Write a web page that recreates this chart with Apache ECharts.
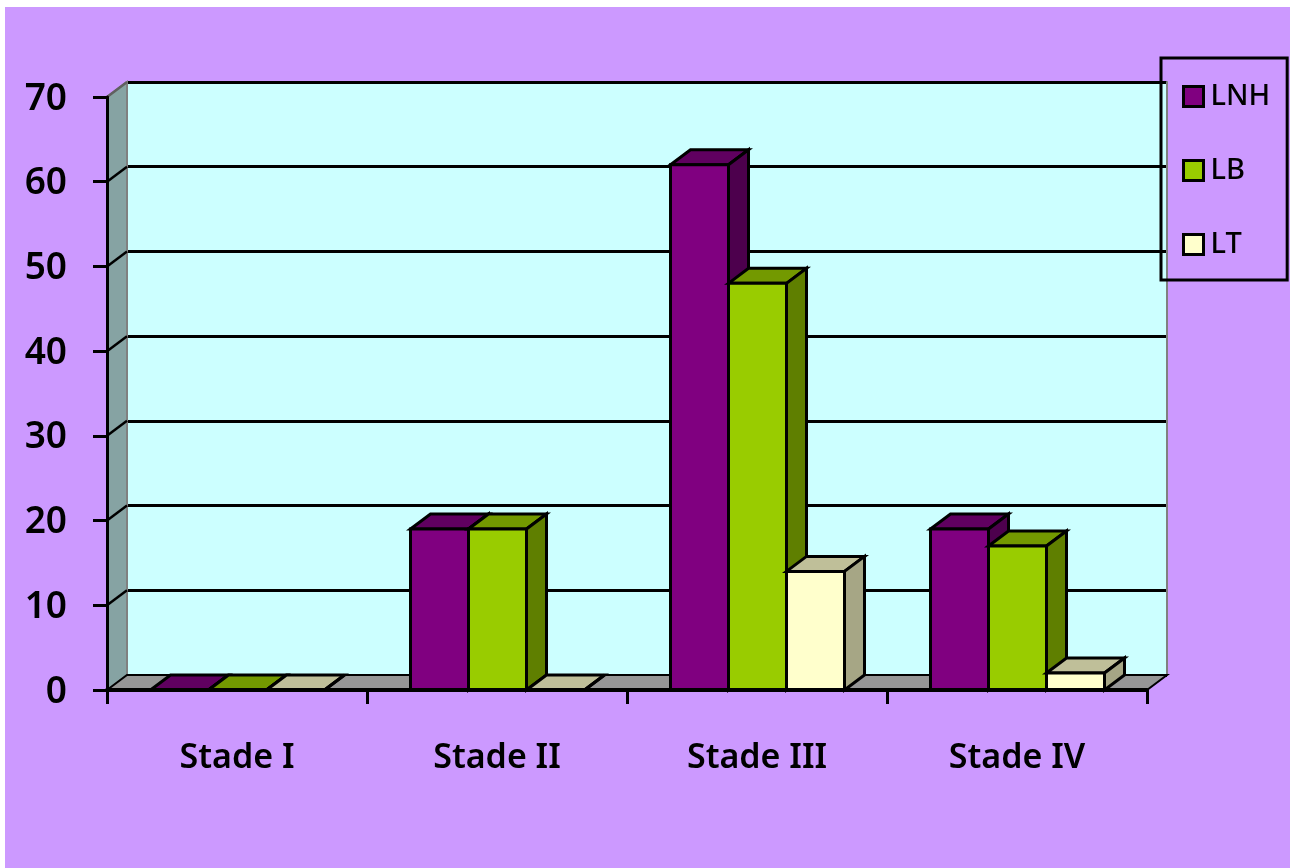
<!DOCTYPE html>
<html><head><meta charset="utf-8">
<style>html,body{margin:0;padding:0;background:#fff}#c{width:1290px;height:868px}</style>
<script src="https://cdn.jsdelivr.net/npm/echarts@6/dist/echarts.min.js"></script>
</head><body><div id="c"></div>
<script>
const categories = ['Stade I','Stade II','Stade III','Stade IV'];
const lnh = [0,19,62,19];
const lb  = [0,19,48,17];
const lt  = [0,0,14,2];
const yTicks = [0,10,20,30,40,50,60,70];
const DX = 20, DY = -15, FONT = '"Noto Sans"';

const chart = echarts.init(document.getElementById('c'));

function barSeries(name, values, idx, front, top, side){
  return {
    name, type:'custom', coordinateSystem:'cartesian2d', xAxisIndex:0, yAxisIndex:0,
    itemStyle:{color:front}, z:4+idx, clip:false,
    data: values.map((v,i)=>[i,v]),
    encode:{x:0,y:1},
    renderItem(params, api){
      const band = api.size([1,0])[0];
      const w = band*58/260;
      const p = api.coord([api.value(0), api.value(1)]);
      const p0 = api.coord([api.value(0), 0]);
      const x = p[0] - 1.5*w + idx*w + 0.5, y = p[1], y0 = p0[1];
      const st = c => ({fill:c, stroke:'#000', lineWidth:3});
      const ch = [];
      ch.push({type:'polygon',shape:{points:[[x,y],[x+DX,y+DY],[x+w+DX,y+DY],[x+w,y]]},style:st(top)});
      ch.push({type:'polygon',shape:{points:[[x+w,y],[x+w+DX,y+DY],[x+w+DX,y0+DY],[x+w,y0]]},style:st(side)});
      if (y0 - y > 0.5) ch.push({type:'rect',shape:{x,y,width:w,height:y0-y},style:st(front)});
      return {type:'group',children:ch};
    }
  };
}

const roomSeries = {
  type:'custom', coordinateSystem:'cartesian2d', xAxisIndex:0, yAxisIndex:0, z:2, silent:true, clip:false,
  data:[[0,0]], legendHoverLink:false,
  renderItem(params, api){
    const band = api.size([1,0])[0];
    const c0 = api.coord([0,0]), cTop = api.coord([0,yTicks[yTicks.length-1]]);
    const xl = c0[0]-band/2, xr = xl + band*categories.length, yb = c0[1], yt = cTop[1];
    const ch = [
      {type:'polygon',shape:{points:[[xl,yb],[xl+DX,yb+DY],[xl+DX,yt+DY],[xl,yt]]},style:{fill:'#86A3A3',stroke:'#808080',lineWidth:2}},
      {type:'polygon',shape:{points:[[xl,yb],[xl+DX,yb+DY],[xr+DX,yb+DY],[xr,yb]]},style:{fill:'#969696',stroke:'#000',lineWidth:2}}
    ];
    yTicks.slice(1).forEach(t=>{
      const y = api.coord([0,t])[1];
      ch.push({type:'line',shape:{x1:xl,y1:y,x2:xl+DX,y2:y+DY},style:{stroke:t===yTicks[yTicks.length-1]?'#606060':'#000',lineWidth:2.5}});
    });
    return {type:'group',children:ch};
  }
};

chart.setOption({
  animation:false,
  backgroundColor:'#fff',
  textStyle:{fontFamily:FONT},
  graphic:[{type:'rect',z:-100,silent:true,shape:{x:5,y:7,width:1285,height:861},style:{fill:'#CC99FF'}}],
  grid:[
    {left:107,top:97,width:1040,height:593,show:false},
    {left:127,top:82,width:1040,height:593,show:true,backgroundColor:'#CCFFFF',borderWidth:0}
  ],
  xAxis:[
    {type:'category',gridIndex:0,data:categories,z:10,
     axisLine:{show:true,lineStyle:{color:'#000',width:4}},
     axisTick:{show:true,alignWithLabel:false,length:14,lineStyle:{color:'#000',width:3}},
     axisLabel:{color:'#000',fontSize:34,fontWeight:600,margin:51,fontFamily:FONT}},
    {type:'category',gridIndex:1,data:categories,axisLine:{show:false},axisTick:{show:false},axisLabel:{show:false}}
  ],
  yAxis:[
    {type:'value',gridIndex:0,min:0,max:70,interval:10,z:10,
     axisLine:{show:true,lineStyle:{color:'#000',width:3}},
     axisTick:{show:true,length:14,lineStyle:{color:'#000',width:3}},
     axisLabel:{color:'#000',fontSize:37,fontWeight:600,margin:40,verticalAlign:'top',lineHeight:4,fontFamily:FONT},
     splitLine:{show:false}},
    {type:'value',gridIndex:1,min:0,max:70,interval:10,position:'right',
     axisLine:{show:true,lineStyle:{color:'#808080',width:2}},axisTick:{show:false},axisLabel:{show:false},
     splitLine:{show:true,showMinLine:true,showMaxLine:true,lineStyle:{color:'#000',width:3}}}
  ],
  legend:{
    orient:'vertical',left:1161,top:58,
    padding:[24,17,21,21],itemGap:45,itemWidth:20,itemHeight:20,
    icon:'rect',borderColor:'#000',borderWidth:3,backgroundColor:'transparent',
    data:['LNH','LB','LT'],
    itemStyle:{borderColor:'#000',borderWidth:3},
    textStyle:{color:'#000',fontSize:29,fontWeight:500,fontFamily:FONT,lineHeight:20,padding:[0,0,0,2]}
  },
  series:[
    roomSeries,
    barSeries('LNH',lnh,0,'#800080','#600060','#4D004D'),
    barSeries('LB',lb,1,'#99CC00','#739900','#5F7F00'),
    barSeries('LT',lt,2,'#FFFFCC','#BFBF99','#A6A685')
  ]
});
</script></body></html>
